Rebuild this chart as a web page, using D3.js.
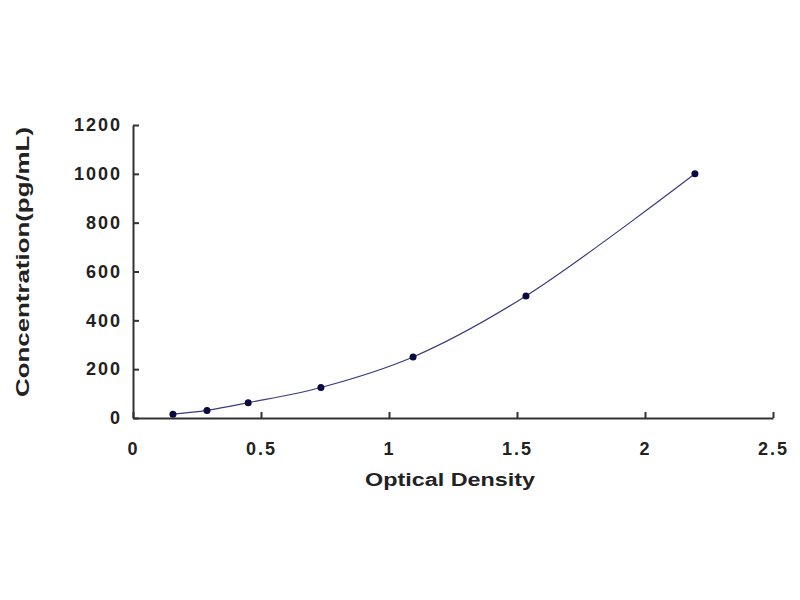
<!DOCTYPE html>
<html>
<head>
<meta charset="utf-8">
<script src="https://cdn.jsdelivr.net/npm/d3@7"></script>
<style>
  body { margin: 0; background: #fff; }
  .axis text { font-family: Arial, "Liberation Sans", sans-serif; font-weight: bold; font-size: 18px; fill: #222; letter-spacing: 2px; }
  .axis path, .axis line { stroke: #333; stroke-width: 2px; }
  .title { font-family: Arial, "Liberation Sans", sans-serif; font-weight: bold; font-size: 18px; fill: #222; }
</style>
</head>
<body>
<div id="chart"></div>
<script>
// standard curve
let od = [0.156, 0.289, 0.45, 0.734, 1.094, 1.535, 2.195];
let conc = [15.6, 31.2, 62.5, 125, 250, 500, 1000];
let xTicks = [0, 0.5, 1, 1.5, 2, 2.5];
let yTicks = [0, 200, 400, 600, 800, 1000, 1200];

let data = od.map((d, i) => ({ od: d, conc: conc[i] }));

let width = 800;
let height = 600;
let plotLeft = 133, plotRight = 773, plotTop = 125, plotBottom = 418;

let svg = d3.select("#chart")
    .append("svg")
    .attr("width", width)
    .attr("height", height);

let x = d3.scaleLinear()
    .domain([0, 2.5])
    .range([plotLeft, plotRight]);

let y = d3.scaleLinear()
    .domain([0, 1200])
    .range([plotBottom, plotTop]);

let xAxis = d3.axisBottom(x)
    .tickValues(xTicks)
    .tickSize(-6)
    .tickSizeOuter(0)
    .tickPadding(24)
    .tickFormat(d => d);

let yAxis = d3.axisLeft(y)
    .tickValues(yTicks)
    .tickSize(-6)
    .tickSizeOuter(0)
    .tickPadding(11)
    .tickFormat(d => d);

svg.append("g")
    .attr("class", "axis x-axis")
    .attr("transform", "translate(0," + plotBottom + ")")
    .call(xAxis);

svg.append("g")
    .attr("class", "axis y-axis")
    .attr("transform", "translate(" + plotLeft + ",0)")
    .call(yAxis);

let line = d3.line()
    .x(d => x(d.od))
    .y(d => y(d.conc))
    .curve(d3.curveCatmullRom);

svg.append("path")
    .datum(data)
    .attr("fill", "none")
    .attr("stroke", "#3a3a80")
    .attr("stroke-width", 1.2)
    .attr("d", line);

svg.selectAll(".dot")
    .data(data)
    .enter()
    .append("circle")
    .attr("class", "dot")
    .attr("cx", d => x(d.od))
    .attr("cy", d => y(d.conc))
    .attr("r", 3.5)
    .attr("fill", "#0a0a40");

svg.append("text")
    .attr("class", "title")
    .attr("text-anchor", "middle")
    .attr("x", 450)
    .attr("y", 486)
    .attr("textLength", 170)
    .attr("lengthAdjust", "spacingAndGlyphs")
    .text("Optical Density");

svg.append("text")
    .attr("class", "title")
    .attr("text-anchor", "middle")
    .attr("transform", "translate(29,262) rotate(-90)")
    .attr("textLength", 270)
    .attr("lengthAdjust", "spacingAndGlyphs")
    .text("Concentration(pg/mL)");
</script>
</body>
</html>
